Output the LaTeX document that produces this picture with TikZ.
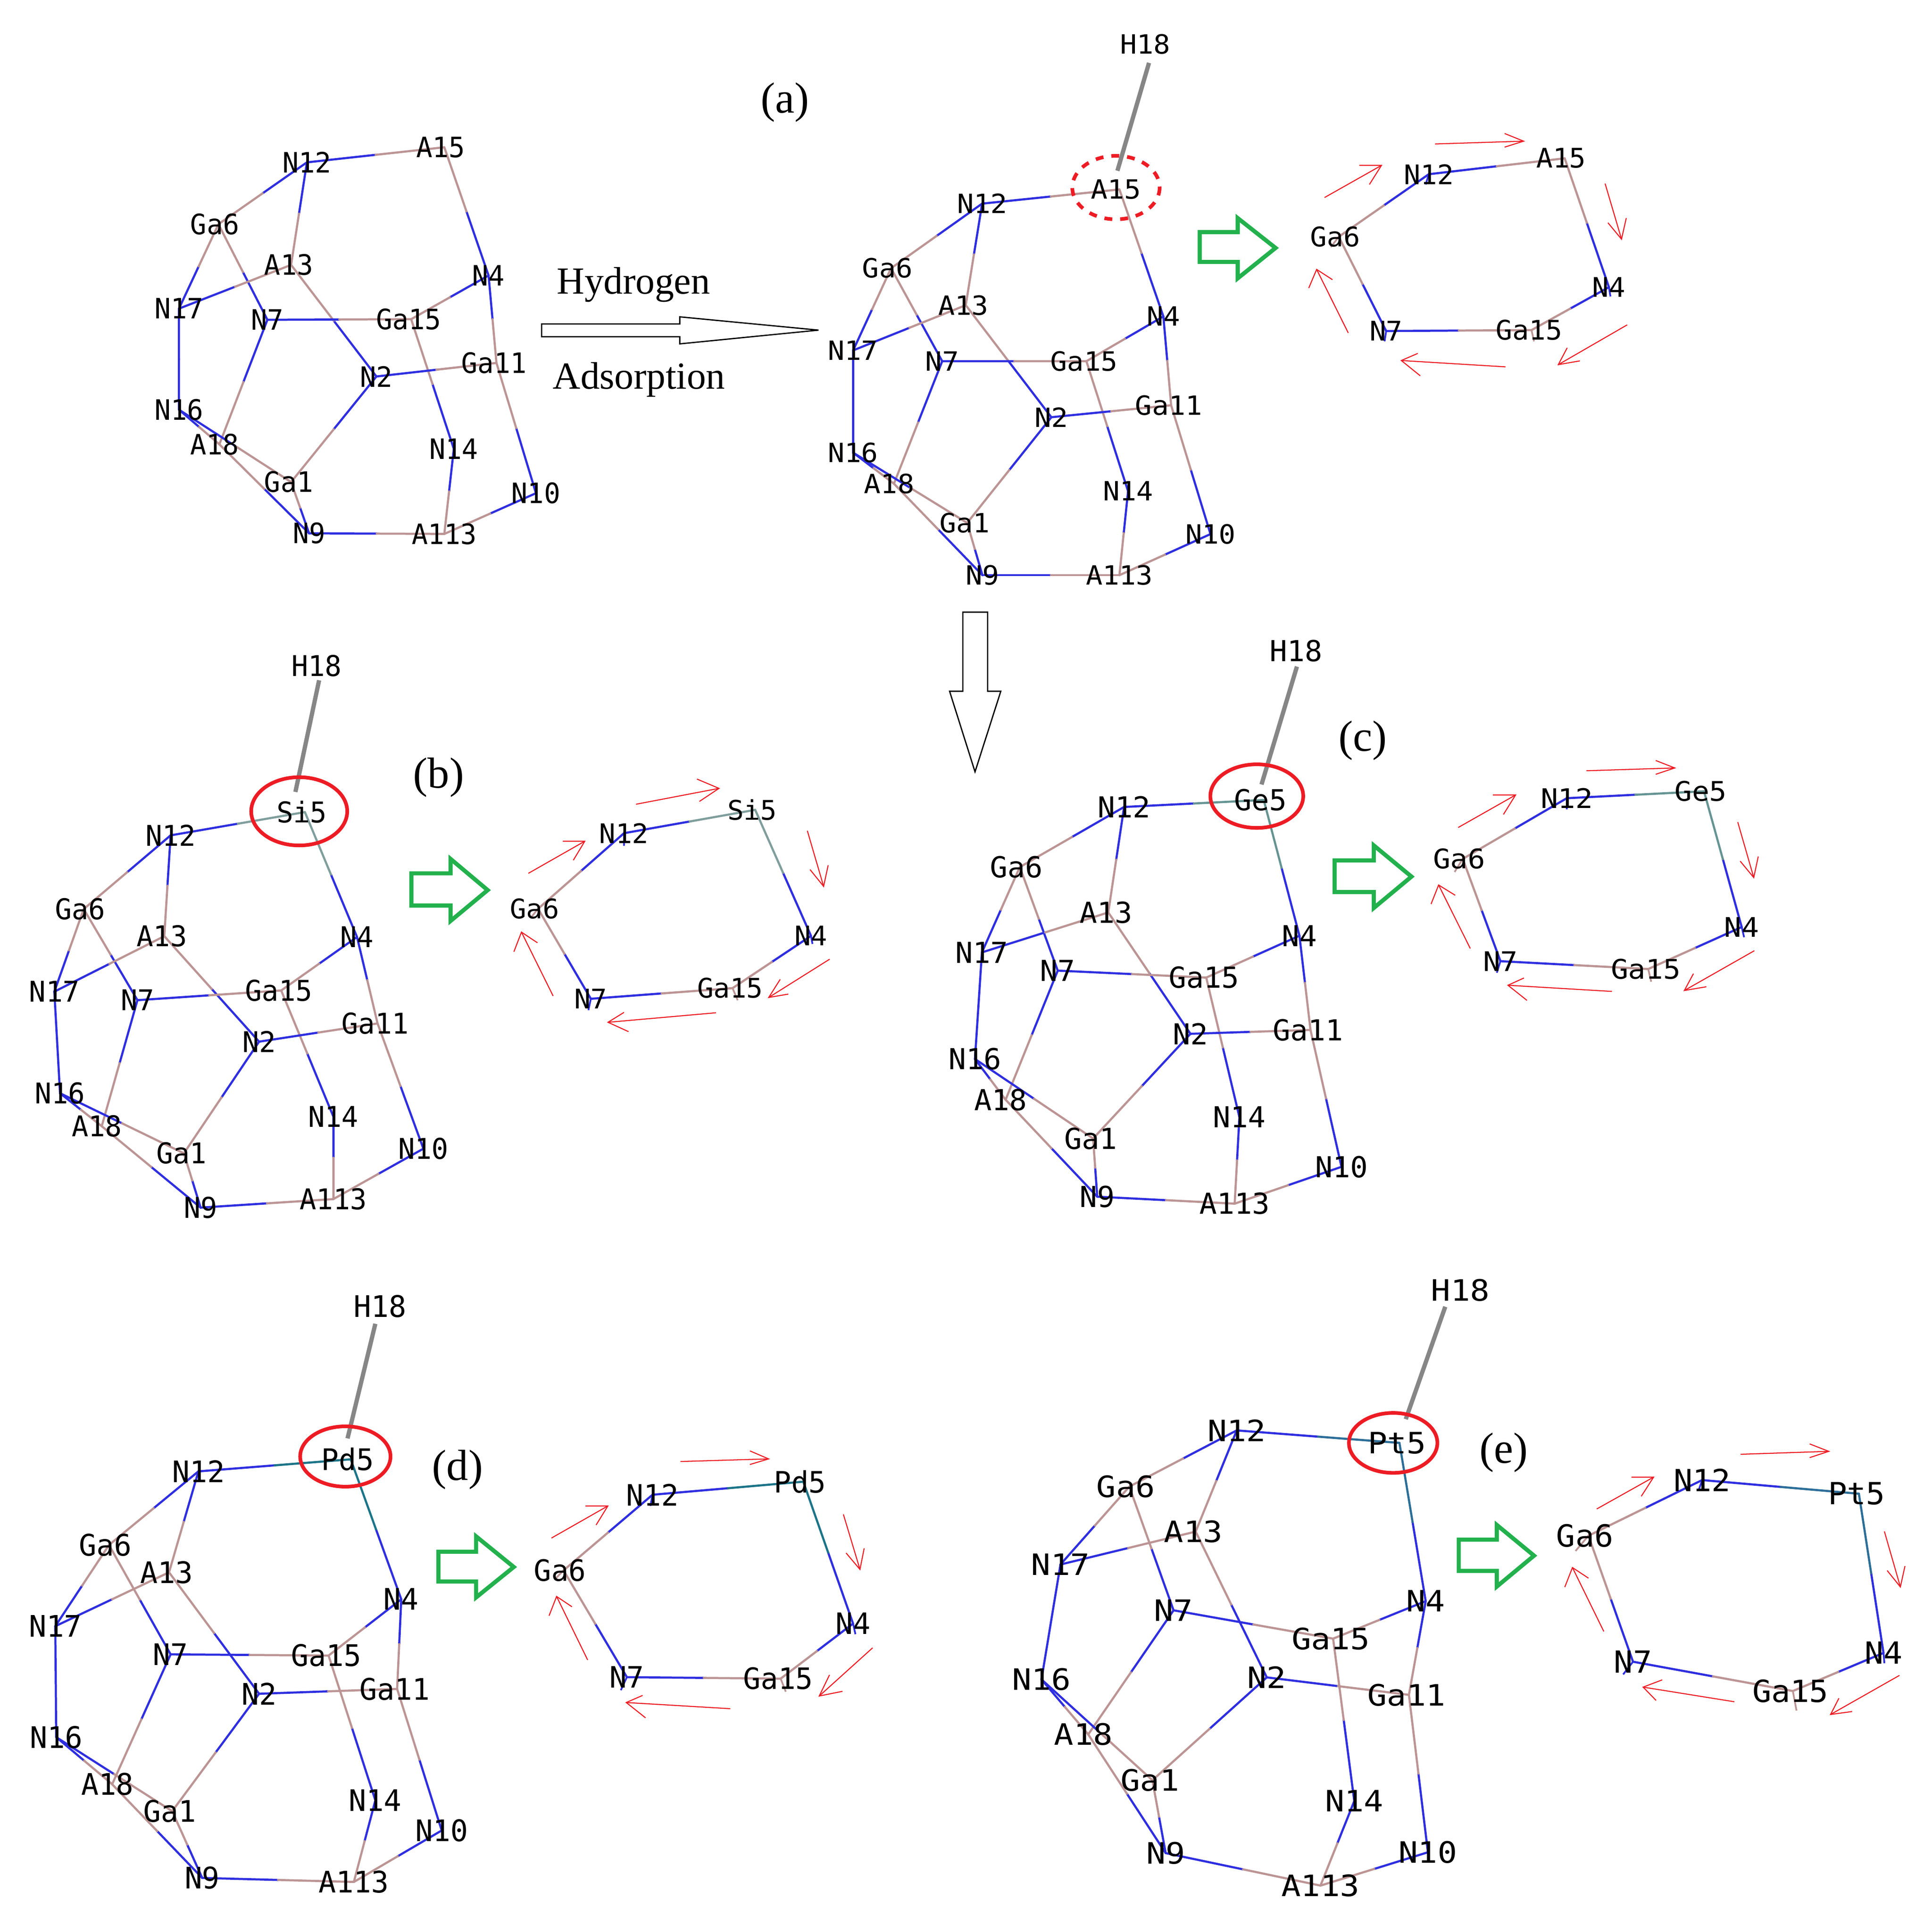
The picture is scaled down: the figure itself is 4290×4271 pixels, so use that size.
\documentclass[tikz,border=0pt]{standalone}
\usepackage{fontspec}
\usepackage{graphicx}
\setmainfont{Liberation Serif}
\newfontfamily\atomfam{DejaVu Sans Mono}
\usetikzlibrary{calc,backgrounds}
\definecolor{nblue}{HTML}{2E2EE0}
\definecolor{obrown}{HTML}{BC9494}
\definecolor{sigray}{HTML}{7F9E9C}
\definecolor{gegray}{HTML}{659492}
\definecolor{pdteal}{HTML}{1C7488}
\definecolor{ptteal}{HTML}{2C6E98}
\definecolor{garrow}{HTML}{22B14C}
\definecolor{rarrow}{HTML}{ED1C24}
\tikzset{
  atom/.style={font=\atomfam\fontsize{34.1}{36}\selectfont,inner sep=0pt,/utils/exec={\def\rpad{0pt}}},
  labGa6/.code={\def\rpad{9pt}},labGa1/.code={\def\rpad{6pt}},
  labA13/.code={\def\rpad{6pt}},labA15/.code={\def\rpad{9pt}},labA18/.code={\def\rpad{12pt}},
  labGa15/.code={\def\rpad{6pt}},labGa11/.code={\def\rpad{6pt}},
  labSi5/.code={\def\rpad{8pt}},labGe5/.code={\def\rpad{8pt}},
  labPd5/.code={\def\rpad{8pt}},labPt5/.code={\def\rpad{6pt}},
  bondline/.style={line width=2.7pt,line cap=round},
  hbond/.style={line width=5.4pt,draw=gray!95},
  stubline/.style={line width=2.2pt},
  redring/.style={draw=rarrow,line width=4.6pt},
  dotring/.style={draw=rarrow,line width=4.6pt,dash pattern=on 10pt off 10pt},
  greenarrow/.style={draw=garrow,line width=5.2pt,miter limit=10},
  blackarrow/.style={draw=black,line width=1.6pt,fill=white},
  redarrow/.style={draw=rarrow,line width=1.3pt},
  panellabel/.style={font=\fontsize{55}{60}\selectfont,inner sep=0pt},
  wordlabel/.style={font=\fontsize{48.4}{52}\selectfont,inner sep=0pt}
}
% half-and-half bond: blue from the first atom to mid, second colour to the other atom
\newcommand\bnd[4][obrown]{%
  \draw[bondline,nblue] (#2#3.center) -- ($(#2#3.center)!.5!(#2#4.center)$);
  \draw[bondline,#1] ($(#2#3.center)!.5!(#2#4.center)$) -- (#2#4.center);}
\newcommand\molbonds[3]{%
  \begin{scope}[on background layer]
  \bnd[#3]{#1}{N12}{#2}\bnd[#3]{#1}{N4}{#2}
  \bnd{#1}{N12}{Ga6}\bnd{#1}{N12}{A13}\bnd{#1}{N17}{Ga6}\bnd{#1}{N7}{Ga6}
  \bnd{#1}{N17}{A13}\bnd{#1}{N2}{A13}\bnd[nblue]{#1}{N17}{N16}
  \bnd{#1}{N7}{Ga15}\bnd{#1}{N7}{A18}\bnd{#1}{N4}{Ga15}\bnd{#1}{N14}{Ga15}
  \bnd{#1}{N4}{Ga11}\bnd{#1}{N2}{Ga11}\bnd{#1}{N2}{Ga1}\bnd{#1}{N10}{Ga11}
  \bnd{#1}{N16}{A18}\bnd{#1}{N16}{Ga1}\bnd{#1}{N9}{A18}\bnd{#1}{N9}{Ga1}
  \bnd{#1}{N9}{A113}\bnd{#1}{N14}{A113}\bnd{#1}{N10}{A113}
  \end{scope}}
\newcommand\ringbonds[3]{%
  \begin{scope}[on background layer]
  \bnd[#3]{#1}{N12}{#2}\bnd[#3]{#1}{N4}{#2}
  \bnd{#1}{N12}{Ga6}\bnd{#1}{N7}{Ga6}\bnd{#1}{N4}{Ga15}\bnd{#1}{N7}{Ga15}
  \end{scope}}
\newcommand\stubs[6]{% prefix, then end points of the short bond remains
  \begin{scope}[on background layer]
  \draw[stubline,nblue] (#1N12.center) -- (#2);
  \draw[stubline,obrown] (#1Ga6.center) -- (#3);
  \draw[stubline,nblue] (#1N4.center) -- (#4);
  \draw[stubline,nblue] (#1N7.center) -- (#5);
  \draw[stubline,obrown] (#1Ga15.center) -- (#6);
  \end{scope}}
\newcommand\rarr[4]{%
  \draw[redarrow] (#1) -- (#2);
  \draw[redarrow] (#3) -- (#2) -- (#4);}
\newcommand\atoms[2]{%
  \foreach \n/\px/\py in {#2}{\node[atom,lab\n/.try] (#1\n) at (\px,\py) {\scalebox{\sx}[\sy]{\n}\hspace*{\rpad}};}}
\begin{document}
\begin{tikzpicture}[x=0.02cm,y=-0.02cm]
\useasboundingbox (0,0) rectangle (4290,4271);
\begin{scope}[on background layer]
\fill[white] (0,0) rectangle (4290,4271);
\end{scope}

%% panel a, left molecule
\begin{scope}[shift={(250,250)},xscale=.7015,yscale=.6696]
\def\sx{1.0}\def\sy{1.04}
\atoms{p}{N12/615/165,A15/1050/115,Ga6/335/370,A13/565/505,N17/210/650,N7/490/687,Ga15/945/685,N4/1190/540,N2/835/875,Ga11/1215/830,N16/210/985,A18/338/1100,Ga1/565/1225,N14/1080/1115,N9/622/1395,A113/1050/1397,N10/1340/1262}
\molbonds{p}{A15}{obrown}
\end{scope}

%% panel a, molecule with H
\begin{scope}[shift={(1800,50)},xscale=.6378,yscale=.8291]
\def\sx{1.03}\def\sy{.98}
\atoms{a}{N12/597/485,A15/1075/447,Ga6/280/658,A13/540/757,N17/148/878,N7/458/907,Ga15/960/907,N4/1228/787,N2/838/1057,Ga11/1255/1025,N16/148/1152,A18/290/1235,Ga1/545/1340,N14/1105/1255,N9/598/1480,A113/1075/1480,N10/1392/1370,H18/1165/58}
\molbonds{a}{A15}{obrown}
\coordinate (aHa) at (1178,108); \coordinate (aHb) at (1068,397);
\draw[hbond] (aHa) -- (aHb);
\coordinate (aEl) at (1063,442);
\draw[dotring] (aEl) ellipse [x radius=152,y radius=85];
\end{scope}

%% panel a, ring
\begin{scope}[shift={(2650,250)},xscale=.7015,yscale=.4145]
\def\sx{1.02}\def\sy{1.0}
\atoms{ra}{Ga6/460/665,N12/745/330,A15/1175/245,N4/1315/935,Ga15/1070/1165,N7/610/1170}
\ringbonds{ra}{A15}{obrown}
\stubs{ra}{735,385}{435,720}{1320,985}{605,1225}{1078,1225}
\draw[greenarrow] (20,640)--(140,640)--(140,565)--(260,725)--(140,888)--(140,800)--(20,800)--cycle;
\rarr{765,168}{1045,153}{985,112}{985,185}
\rarr{415,455}{595,283}{525,283}{557,385}
\rarr{1303,380}{1355,678}{1370,565}{1312,590}
\rarr{1373,1137}{1155,1350}{1183,1260}{1223,1330}
\rarr{988,1362}{658,1328}{710,1290}{718,1410}
\rarr{490,1180}{390,840}{365,940}{440,895}
\end{scope}

%% centre arrows and words
\begin{scope}[shift={(1150,130)},xscale=.7334,yscale=1.0523]
\draw[blackarrow] (72,560)--(490,560)--(490,545)--(910,573)--(490,602)--(490,587)--(72,587)--cycle;
\draw[blackarrow] (1347,1168)--(1422,1168)--(1422,1335)--(1462,1335)--(1384,1505)--(1307,1335)--(1347,1335)--cycle;
\end{scope}
\node[panellabel] (la) at (1743,227) {(a)};
\node[wordlabel] (wh) at (1407,632) {Hydrogen};
\node[wordlabel] (wa) at (1419,843) {Adsorption};
\node[panellabel] (lb) at (974,1726) {(b)};
\node[panellabel] (lc) at (3026,1644) {(c)};
\node[panellabel] (ld) at (1016,3263) {(d)};
\node[panellabel] (le) at (3339,3225) {(e)};

%% panel b molecule
\begin{scope}[shift={(0,1420)},xscale=.7015,yscale=.8610]
\def\sx{1.03}\def\sy{1.06}
\atoms{b}{N12/540/505,Si5/965/445,Ga6/265/695,A13/520/765,N17/172/908,N7/435/930,Ga15/890/905,N4/1130/767,N2/820/1037,Ga11/1195/990,N16/190/1170,A18/322/1255,Ga1/582/1325,N14/1055/1230,N9/635/1465,A113/1055/1443,N10/1340/1313,H18/1002/68}
\molbonds{b}{Si5}{sigray}
\coordinate (bHa) at (1010,105); \coordinate (bHb) at (935,393);
\draw[hbond] (bHa) -- (bHb);
\coordinate (bEl) at (947,443);
\draw[redring] (bEl) ellipse [x radius=152,y radius=88];
\end{scope}

%% panel b ring
\begin{scope}[shift={(880,1680)},xscale=.6696,yscale=.4145]
\def\sx{1.01}\def\sy{1.0}
\atoms{rb}{Ga6/470/815,N12/755/410,Si5/1190/285,N4/1375/960,Ga15/1115/1240,N7/645/1297}
\ringbonds{rb}{Si5}{sigray}
\stubs{rb}{755,478}{445,865}{1380,1003}{637,1358}{1132,1305}
\draw[greenarrow] (50,625)--(180,625)--(180,548)--(303,715)--(180,880)--(180,798)--(50,798)--cycle;
\rarr{795,255}{1070,170}{997,120}{1005,240}
\rarr{438,625}{625,453}{552,453}{587,555}
\rarr{1363,397}{1417,695}{1432,582}{1372,605}
\rarr{1437,1085}{1235,1290}{1273,1193}{1300,1272}
\rarr{1060,1372}{702,1423}{755,1370}{770,1473}
\rarr{520,1282}{415,940}{390,1045}{468,997}
\end{scope}

%% panel c molecule
\begin{scope}[shift={(2040,1400)},xscale=.7015,yscale=.8610]
\def\sx{1.08}\def\sy{1.07}
\atoms{c}{N12/650/455,Ge5/1092/437,Ga6/320/610,A13/600/727,N17/200/830,N7/440/877,Ga15/910/895,N4/1205/787,N2/860/1040,Ga11/1240/1030,N16/178/1105,A18/275/1210,Ga1/552/1310,N14/1015/1255,N9/565/1460,A113/1000/1478,N10/1338/1383,H18/1195/52}
\molbonds{c}{Ge5}{gegray}
\coordinate (cHa) at (1197,93); \coordinate (cHb) at (1085,397);
\draw[hbond] (cHa) -- (cHb);
\coordinate (cEl) at (1070,427);
\draw[redring] (cEl) ellipse [x radius=147,y radius=82];
\end{scope}

%% panel c ring
\begin{scope}[shift={(2950,1650)},xscale=.6696,yscale=.4145]
\def\sx{1.07}\def\sy{1.0}
\atoms{rc}{Ga6/445/620,N12/790/295,Ge5/1245/258,N4/1370/985,Ga15/1060/1210,N7/570/1168}
\ringbonds{rc}{Ge5}{gegray}
\stubs{rc}{790,355}{418,690}{1378,1040}{558,1230}{1070,1278}
\draw[greenarrow] (20,628)--(150,628)--(150,548)--(275,715)--(150,883)--(150,798)--(20,798)--cycle;
\rarr{855,148}{1148,133}{1085,93}{1085,167}
\rarr{430,452}{620,278}{545,278}{580,382}
\rarr{1357,423}{1410,720}{1425,607}{1365,632}
\rarr{1412,1112}{1180,1325}{1210,1235}{1253,1305}
\rarr{940,1330}{595,1297}{648,1258}{658,1378}
\rarr{470,1100}{365,760}{340,862}{420,815}
\end{scope}

%% panel d molecule
\begin{scope}[shift={(0,2850)},xscale=.7015,yscale=.8929]
\def\sx{1.08}\def\sy{1.1}
\atoms{d}{N12/628/467,Pd5/1110/437,Ga6/345/650,A13/535/718,N17/175/852,N7/540/922,Ga15/1040/925,N4/1270/785,N2/820/1020,Ga11/1257/1008,N16/178/1128,A18/355/1245,Ga1/545/1312,N14/1188/1285,N9/640/1478,A113/1120/1488,N10/1398/1360,H18/1203/57}
\molbonds{d}{Pd5}{pdteal}
\coordinate (dHa) at (1188,100); \coordinate (dHb) at (1100,385);
\draw[hbond] (dHa) -- (dHb);
\coordinate (dEl) at (1093,430);
\draw[redring] (dEl) ellipse [x radius=143,y radius=75];
\end{scope}

%% panel d ring
\begin{scope}[shift={(950,3180)},xscale=.6696,yscale=.4145]
\def\sx{1.07}\def\sy{1.09}
\atoms{rd}{Ga6/450/740,N12/745/335,Pd5/1245/265,N4/1410/1025,Ga15/1170/1320,N7/660/1312}
\ringbonds{rd}{Pd5}{pdteal}
\stubs{rd}{738,395}{420,790}{1418,1082}{640,1382}{1187,1390}
\draw[greenarrow] (35,640)--(160,640)--(160,558)--(285,722)--(160,885)--(160,800)--(35,800)--cycle;
\rarr{838,157}{1130,143}{1068,100}{1068,173}
\rarr{410,567}{597,395}{523,395}{558,497}
\rarr{1378,440}{1433,735}{1447,622}{1387,647}
\rarr{1475,1155}{1298,1413}{1332,1300}{1375,1388}
\rarr{1003,1481}{658,1448}{712,1410}{722,1530}
\rarr{530,1220}{427,880}{402,983}{478,935}
\end{scope}

%% panel e molecule
\begin{scope}[shift={(2220,2820)},xscale=.7015,yscale=.9247]
\def\sx{1.2}\def\sy{1.09}
\atoms{e}{N12/750/385,Pt5/1265/415,Ga6/410/520,A13/620/628,N17/192/707,N7/550/817,Ga15/1055/885,N4/1348/795,N2/845/978,Ga11/1295/1020,N16/132/983,A18/280/1115,Ga1/483/1225,N14/1122/1275,N9/525/1400,A113/1015/1478,N10/1355/1398,H18/1458/48}
\molbonds{e}{Pt5}{ptteal}
\coordinate (eHa) at (1410,88); \coordinate (eHb) at (1285,358);
\draw[hbond] (eHa) -- (eHb);
\coordinate (eEl) at (1245,415);
\draw[redring] (eEl) ellipse [x radius=140,y radius=72];
\end{scope}

%% panel e ring
\begin{scope}[shift={(3220,3180)},xscale=.6824,yscale=.4337]
\def\sx{1.17}\def\sy{1.13}
\atoms{re}{Ga6/450/530,N12/820/245,Pt5/1330/315,N4/1410/1130,Ga15/1115/1325,N7/595/1175}
\ringbonds{re}{Pt5}{ptteal}
\stubs{re}{808,300}{408,608}{1413,1183}{563,1240}{1127,1425}
\draw[greenarrow] (28,550)--(152,550)--(152,475)--(273,632)--(152,790)--(152,710)--(28,710)--cycle;
\rarr{945,113}{1232,98}{1170,60}{1170,130}
\rarr{477,393}{662,230}{590,230}{622,328}
\rarr{1413,508}{1465,792}{1480,685}{1422,708}
\rarr{1462,1245}{1238,1445}{1265,1362}{1308,1430}
\rarr{925,1380}{628,1305}{690,1268}{670,1373}
\rarr{500,1020}{398,693}{373,793}{450,747}
\end{scope}
\end{tikzpicture}
\end{document}
